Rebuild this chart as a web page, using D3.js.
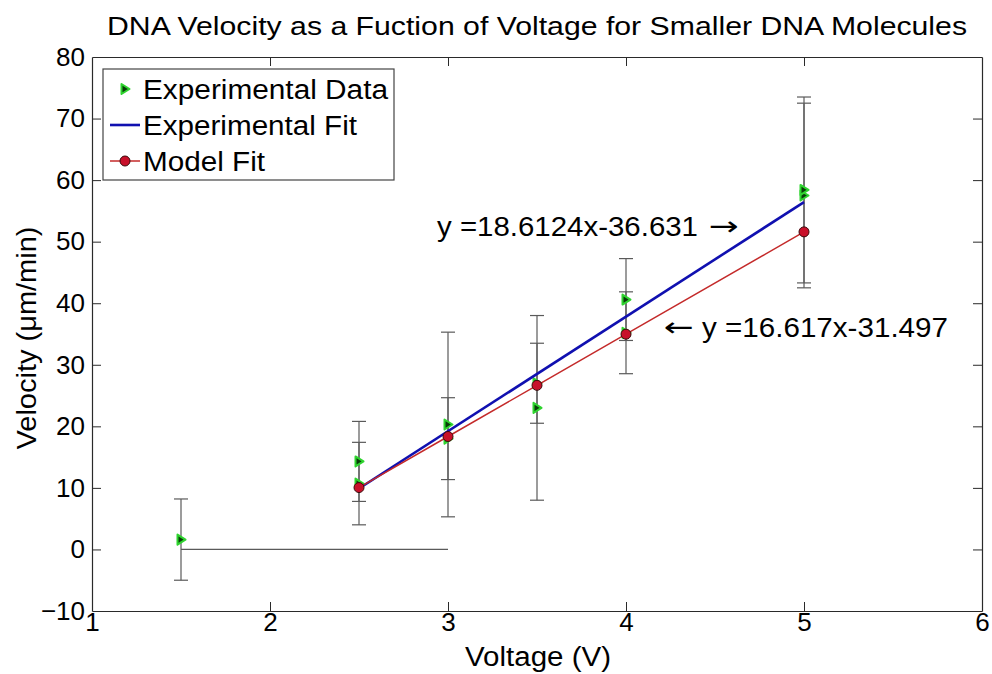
<!DOCTYPE html>
<html>
<head>
<meta charset="utf-8">
<script src="https://cdn.jsdelivr.net/npm/d3@7"></script>
<style>
  html, body { margin: 0; padding: 0; background: #fff; }
  svg { display: block; font-family: Arial, "Liberation Sans", sans-serif; }
</style>
</head>
<body>
<svg id="chart" width="992" height="674"></svg>
<script>
// ---- data ----
const xTicks = [1, 2, 3, 4, 5, 6];
const yTicks = [-10, 0, 10, 20, 30, 40, 50, 60, 70, 80];

// Experimental data points (voltage, velocity, +/- error)
const dataX   = [1.5, 2.5, 2.5, 3, 3, 3.5, 3.5, 4, 4, 5, 5];
const dataY   = [1.6, 14.3, 10.7, 20.3, 18.0, 23.0, 27.0, 40.6, 35.2, 57.5, 58.4];
const dataErr = [6.6, 6.5, 6.7, 15.0, 6.65, 15.0, 6.5, 6.65, 6.65, 15.0, 15.1];

// Horizontal grey segment at zero
const zeroLineX = [1.5, 3];
const zeroLineY = [0, 0];

// Experimental fit (y = 18.6124x - 36.631)
const fitX = [2.5, 5];
const fitY = [9.9, 56.43];

// Model fit (y = 16.617x - 31.497)
const modelX = [2.5, 3, 3.5, 4, 5];
const modelY = [10.05, 18.35, 26.66, 34.97, 51.59];

const titleText = "DNA Velocity as a Fuction of Voltage for Smaller DNA Molecules";
const xLabel = "Voltage (V)";
const yLabel = "Velocity (\u03BCm/min)";
const legendLabels = ["Experimental Data", "Experimental Fit", "Model Fit"];
const annot1 = "y =18.6124x-36.631";
const annot2 = "y =16.617x-31.497";

// ---- layout ----
const L = 92, R = 982, T = 57, B = 611;
const svg = d3.select("#chart");
const x = d3.scaleLinear().domain([1, 6]).range([L, R]);
const y = d3.scaleLinear().domain([-10, 80]).range([B, T]);
const FS = 26;

// axes
const axisColor = "#2a2a2a";
function styleAxis(g) {
  g.select(".domain").attr("stroke", axisColor).attr("stroke-width", 1.2);
  g.selectAll(".tick line").attr("stroke", axisColor).attr("stroke-width", 1);
  g.selectAll(".tick text").attr("fill", "#000").attr("font-size", FS)
    .attr("font-family", "Arial, 'Liberation Sans', sans-serif");
}
svg.append("g").attr("transform", `translate(0,${B})`)
  .call(d3.axisBottom(x).tickValues(xTicks).tickFormat(d3.format("d"))
    .tickSizeInner(-9).tickSizeOuter(0).tickPadding(2))
  .call(styleAxis);
svg.append("g").attr("transform", `translate(0,${T})`)
  .call(d3.axisTop(x).tickValues(xTicks).tickFormat("")
    .tickSizeInner(-9).tickSizeOuter(0))
  .call(styleAxis);
svg.append("g").attr("transform", `translate(${L},0)`)
  .call(d3.axisLeft(y).tickValues(yTicks).tickFormat(d3.format("d"))
    .tickSizeInner(-9).tickSizeOuter(0).tickPadding(7))
  .call(styleAxis);
svg.append("g").attr("transform", `translate(${R},0)`)
  .call(d3.axisRight(y).tickValues(yTicks).tickFormat("")
    .tickSizeInner(-9).tickSizeOuter(0))
  .call(styleAxis);
// remove tick marks at box corners
svg.selectAll(".tick").filter(d => d === 1 || d === 6 || d === -10 || d === 80)
  .select("line").remove();

const plot = svg.append("g");
const errColor = "#5a5a5a";

// zero line
plot.append("path")
  .attr("d", d3.line()(zeroLineX.map((v, i) => [x(v), y(zeroLineY[i])])))
  .attr("stroke", errColor).attr("stroke-width", 1.2).attr("fill", "none");

// error bars
const capW = 7;
dataX.forEach((xv, i) => {
  const cx = x(xv), lo = y(dataY[i] - dataErr[i]), hi = y(dataY[i] + dataErr[i]);
  plot.append("line").attr("x1", cx).attr("x2", cx).attr("y1", lo).attr("y2", hi)
    .attr("stroke", errColor).attr("stroke-width", 1.2);
  [lo, hi].forEach(yy => plot.append("line")
    .attr("x1", cx - capW).attr("x2", cx + capW).attr("y1", yy).attr("y2", yy)
    .attr("stroke", errColor).attr("stroke-width", 1.2));
});

// data markers (right-pointing triangles)
function triPath(cx, cy) {
  return `M${cx - 3.5},${cy - 5}L${cx + 4.5},${cy}L${cx - 3.5},${cy + 5}Z`;
}
dataX.forEach((xv, i) => {
  plot.append("path").attr("d", triPath(x(xv), y(dataY[i])))
    .attr("fill", "#083d08").attr("stroke", "#2fd42f").attr("stroke-width", 2)
    .attr("stroke-linejoin", "round");
});

// experimental fit line
plot.append("path")
  .attr("d", d3.line()(fitX.map((v, i) => [x(v), y(fitY[i])])))
  .attr("stroke", "#1010b0").attr("stroke-width", 2.6).attr("fill", "none");

// model fit line + markers
plot.append("path")
  .attr("d", d3.line()(modelX.map((v, i) => [x(v), y(modelY[i])])))
  .attr("stroke", "#c42a2a").attr("stroke-width", 1.5).attr("fill", "none");
modelX.forEach((v, i) => {
  plot.append("circle").attr("cx", x(v)).attr("cy", y(modelY[i])).attr("r", 5)
    .attr("fill", "#c8102a").attr("stroke", "#3a0a0a").attr("stroke-width", 1);
});

// annotations
const arrowFont = "'DejaVu Sans', sans-serif";
svg.append("text").attr("x", 437).attr("y", 236).attr("font-size", FS + 1)
  .attr("textLength", 261).attr("lengthAdjust", "spacingAndGlyphs").text(annot1);
svg.append("text").attr("x", 709).attr("y", 235).attr("font-size", FS)
  .attr("font-family", arrowFont)
  .attr("textLength", 30).attr("lengthAdjust", "spacingAndGlyphs").text("\u2192");
svg.append("text").attr("x", 664).attr("y", 336).attr("font-size", FS)
  .attr("font-family", arrowFont)
  .attr("textLength", 30).attr("lengthAdjust", "spacingAndGlyphs").text("\u2190");
svg.append("text").attr("x", 702).attr("y", 337).attr("font-size", FS + 1)
  .attr("textLength", 246).attr("lengthAdjust", "spacingAndGlyphs").text(annot2);

// legend
const lg = svg.append("g");
lg.append("rect").attr("x", 103).attr("y", 69).attr("width", 291).attr("height", 111)
  .attr("fill", "#fff").attr("stroke", "#444").attr("stroke-width", 1.2);
const rowY = [89, 125, 161];
const legendLen = [245, 214, 122];
legendLabels.forEach((lab, i) => {
  lg.append("text").attr("x", 143).attr("y", rowY[i] + 9.5).attr("font-size", FS + 1)
    .attr("textLength", legendLen[i]).attr("lengthAdjust", "spacingAndGlyphs").text(lab);
});
lg.append("path").attr("d", triPath(125, rowY[0]))
  .attr("fill", "#083d08").attr("stroke", "#2fd42f").attr("stroke-width", 2)
  .attr("stroke-linejoin", "round");
lg.append("line").attr("x1", 110).attr("x2", 140).attr("y1", rowY[1]).attr("y2", rowY[1])
  .attr("stroke", "#1010b0").attr("stroke-width", 2.6);
lg.append("line").attr("x1", 110).attr("x2", 140).attr("y1", rowY[2]).attr("y2", rowY[2])
  .attr("stroke", "#c42a2a").attr("stroke-width", 1.5);
lg.append("circle").attr("cx", 125).attr("cy", rowY[2]).attr("r", 5)
  .attr("fill", "#c8102a").attr("stroke", "#3a0a0a").attr("stroke-width", 1);

// title & axis labels
svg.append("text").attr("x", 537).attr("y", 35).attr("text-anchor", "middle")
  .attr("font-size", FS).attr("textLength", 860).attr("lengthAdjust", "spacingAndGlyphs")
  .text(titleText);
svg.append("text").attr("x", 538).attr("y", 666).attr("text-anchor", "middle")
  .attr("font-size", FS + 1).attr("textLength", 146).attr("lengthAdjust", "spacingAndGlyphs")
  .text(xLabel);
svg.append("text").attr("transform", "translate(36,338) rotate(-90)")
  .attr("text-anchor", "middle").attr("font-size", FS + 1)
  .attr("textLength", 223).attr("lengthAdjust", "spacingAndGlyphs").text(yLabel);
</script>
</body>
</html>
